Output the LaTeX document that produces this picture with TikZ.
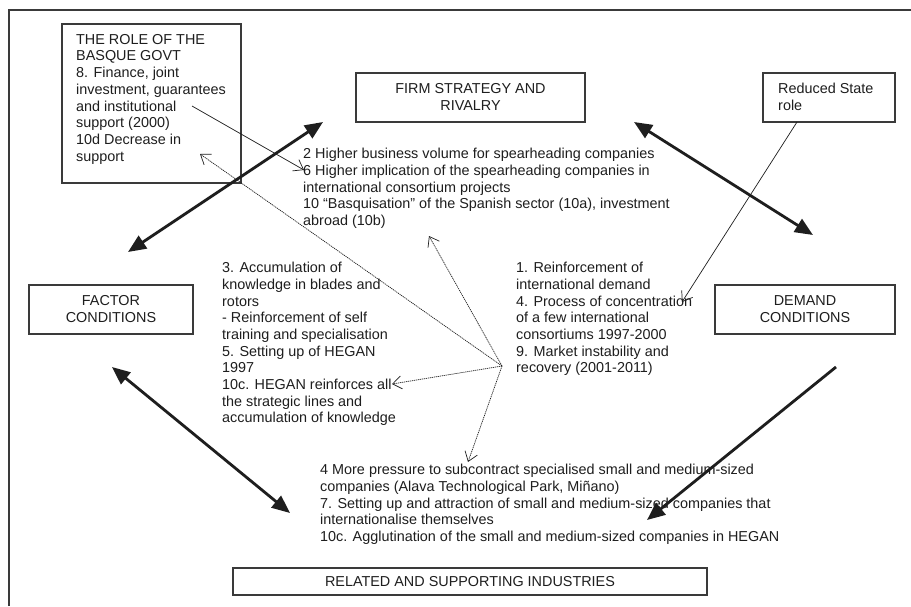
\documentclass[tikz,border=0pt]{standalone}
\usepackage{fontspec}
\setmainfont{Liberation Sans}
\usetikzlibrary{arrows.meta}
\definecolor{ink}{HTML}{1E1E1E}
\definecolor{frameink}{HTML}{3A3A3A}
\begin{document}
\begin{tikzpicture}[x=1pt,y=-1pt,
  every node/.style={text=ink, font=\fontsize{14.4}{16.7}\selectfont},
  box/.style={draw=frameink, line width=1.3pt, inner sep=0pt},
  boxlabel/.style={align=center, inner sep=0pt},
  note/.style={align=left, anchor=north west, inner sep=0pt},
  bigarrow/.style={draw=ink, line width=2.8pt, {Triangle[length=18pt,width=15pt]}-{Triangle[length=18pt,width=15pt]}},
  bigone/.style={draw=ink, line width=2.8pt, -{Triangle[length=18pt,width=15pt]}},
  thinarrow/.style={draw=ink, line width=0.7pt, -{Straight Barb[length=9pt,width=13pt,line width=0.7pt]}},
  dotarrow/.style={draw=ink, line width=0.7pt, dash pattern=on 1.2pt off 0.8pt, -{Straight Barb[length=9pt,width=13pt,line width=0.7pt,sep=0pt]}}
]
\useasboundingbox (0,0) rectangle (911,606);
\fill[white] (0,0) rectangle (911,606);

% outer frame (only the top and left edges fall inside the page)
\draw[frameink, line width=2pt] (8.5,606) -- (8.5,10) -- (911,10);

% boxes of the diamond
\draw[box] (62,24) rectangle (241,183);
\node[note] (govt) at (76,34) {THE ROLE OF THE\\BASQUE GOVT\\8. Finance, joint\\investment, guarantees\\and institutional\\support (2000)\\10d Decrease in\\support};

\draw[box] (356,73) rectangle (585,122);
\node[boxlabel] (firm) at (470.5,97) {FIRM STRATEGY AND\\RIVALRY};

\draw[box] (763,73) rectangle (895,122);
\node[note] (state) at (778,83) {Reduced State\\role};

\draw[box] (29,285) rectangle (193,334);
\node[boxlabel] (factor) at (111,309) {FACTOR\\CONDITIONS};

\draw[box] (715,285) rectangle (895,334);
\node[boxlabel] (demand) at (805,309) {DEMAND\\CONDITIONS};

\draw[box] (233,568) rectangle (707,595);
\node[boxlabel] (related) at (470,582) {RELATED AND SUPPORTING INDUSTRIES};

% explanatory texts
\node[note] (firmtxt) at (303,148) {2 Higher business volume for spearheading companies\\6 Higher implication of the spearheading companies in\\international consortium projects\\10 “Basquisation” of the Spanish sector (10a), investment\\abroad (10b)};

\node[note] (factortxt) at (222,262) {3. Accumulation of\\knowledge in blades and\\rotors\\- Reinforcement of self\\training and specialisation\\5. Setting up of HEGAN\\1997\\10c. HEGAN reinforces all\\the strategic lines and\\accumulation of knowledge};

\node[note] (demandtxt) at (516,262) {1. Reinforcement of\\international demand\\4. Process of concentration\\of a few international\\consortiums 1997-2000\\9. Market instability and\\recovery (2001-2011)};

\node[note] (relatedtxt) at (320,464) {4 More pressure to subcontract specialised small and medium-sized\\companies (Alava Technological Park, Miñano)\\7. Setting up and attraction of small and medium-sized companies that\\internationalise themselves\\10c. Agglutination of the small and medium-sized companies in HEGAN};

% connector end points
\coordinate (fsA) at (323,122);
\coordinate (fcA) at (128,252);
\coordinate (fsB) at (634,122);
\coordinate (dcB) at (813,235);
\coordinate (fcC) at (112,367);
\coordinate (rsC) at (290,513);
\coordinate (dcD) at (836,367);
\coordinate (rsD) at (647,520);
\coordinate (govtout) at (192,106);
\coordinate (firmin) at (304,170);
\coordinate (stateout) at (797,122);
\coordinate (demandin) at (682,302);
\coordinate (hub) at (502,366);
\coordinate (govtin) at (200,154);
\coordinate (firmtxtin) at (429,236);
\coordinate (factortxtin) at (392,384);
\coordinate (relatedtxtin) at (468,462);

% thick links of the diamond
\draw[bigarrow] (fcA) -- (fsA);
\draw[bigarrow] (fsB) -- (dcB);
\draw[bigarrow] (fcC) -- (rsC);
\draw[bigone] (dcD) -- (rsD);

% thin links
\draw[thinarrow] (govtout) -- (firmin);
\draw[thinarrow] (stateout) -- (demandin);

% dotted links out of the demand text
\draw[dotarrow] (hub) -- (govtin);
\draw[dotarrow] (hub) -- (firmtxtin);
\draw[dotarrow] (hub) -- (factortxtin);
\draw[dotarrow] (hub) -- (relatedtxtin);
\end{tikzpicture}
\end{document}
